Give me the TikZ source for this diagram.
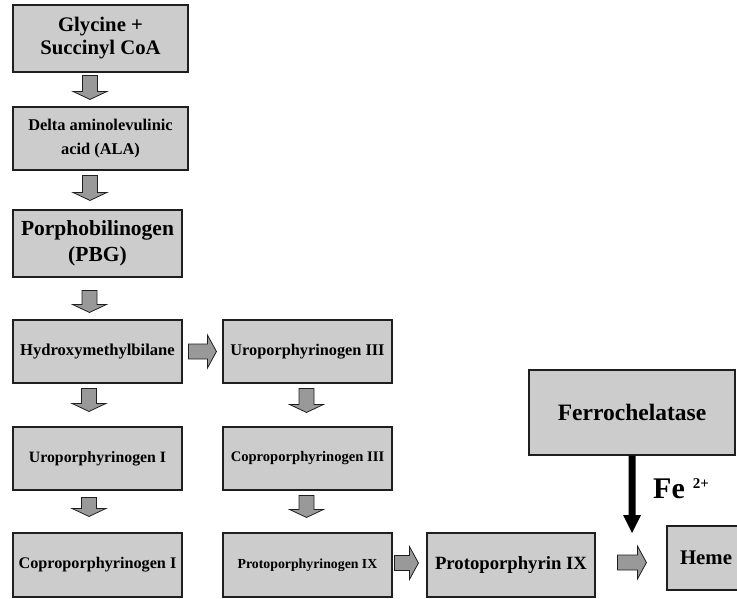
\documentclass[tikz,border=0pt]{standalone}
\usepackage{fontspec}
\setmainfont{Liberation Serif}
\usetikzlibrary{calc}
\definecolor{boxfill}{gray}{0.80}
\definecolor{arrfill}{gray}{0.60}
\definecolor{edge}{gray}{0.12}
\tikzset{
  box/.style={draw=edge, line width=1.1pt, fill=boxfill, inner sep=2pt, align=center},
  blk/.style={draw=edge, line width=0.8pt, fill=arrfill, line join=miter},
  fs/.style={font=\fontsize{#1}{#1}\selectfont\bfseries},
}
% grey block arrow pointing down, from point #1 to tip #2
\newcommand\darrow[2]{%
  \path[blk] let \p1=#1, \p2=#2 in
   (\x1-7.5pt,\y1) -- (\x1+7.5pt,\y1) -- (\x1+7.5pt,\y2+8pt) -- (\x1+17pt,\y2+8pt)
   -- (\x1,\y2) -- (\x1-17pt,\y2+8pt) -- (\x1-7.5pt,\y2+8pt) -- cycle;}
% grey block arrow pointing right, from point #1 to tip #2
\newcommand\rarrow[2]{%
  \path[blk] let \p1=#1, \p2=#2 in
   (\x1,\y1+7.5pt) -- (\x2-9pt,\y1+7.5pt) -- (\x2-9pt,\y1+16.5pt) -- (\x2,\y1)
   -- (\x2-9pt,\y1-16.5pt) -- (\x2-9pt,\y1-7.5pt) -- (\x1,\y1-7.5pt) -- cycle;}
\begin{document}
\begin{tikzpicture}[x=1pt,y=-1pt]
\useasboundingbox (0,0) rectangle (737,598);
\clip (0,0) rectangle (737,598);

% boxes
\node[box, font=\fontsize{20.7}{23}\selectfont\bfseries, minimum width=175, minimum height=67] (gly) at (100.5,38.5)
  {Glycine +\\Succinyl CoA};
\node[box, font=\fontsize{16.4}{24}\selectfont\bfseries, minimum width=175, minimum height=63] (ala) at (100.5,138.5)
  {Delta aminolevulinic\\acid (ALA)};
\node[box, font=\fontsize{21.5}{26}\selectfont\bfseries, minimum width=169, minimum height=67] (pbg) at (97.5,243.5)
  {Porphobilinogen\\(PBG)};
\node[box, fs=16.6, minimum width=169, minimum height=63] (hmb) at (97.5,351.5) {Hydroxymethylbilane};
\node[box, fs=16.3, minimum width=169, minimum height=63] (uro3) at (307.5,351.5) {Uroporphyrinogen III};
\node[box, fs=15.8, minimum width=169, minimum height=63] (uro1) at (97.5,458.5) {Uroporphyrinogen I};
\node[box, fs=14.6, minimum width=169, minimum height=63] (copro3) at (307.5,458.5) {Coproporphyrinogen III};
\node[box, fs=16.2, minimum width=169, minimum height=64] (copro1) at (97.5,565) {Coproporphyrinogen I};
\node[box, fs=13.8, minimum width=169, minimum height=64] (protogen) at (307.5,565) {Protoporphyrinogen IX};
\node[box, fs=18.7, minimum width=168, minimum height=64] (proto) at (511,565) {Protoporphyrin IX};
\node[box, fs=20.8, minimum width=78, minimum height=64] (heme) at (706,558) {Heme};
\node[box, fs=23.5, minimum width=206, minimum height=85] (ferro) at (632,412.5) {Ferrochelatase};

% grey block arrows
\darrow{($(gly.south)+(-10.5,3)$)}{($(ala.north)+(-10.5,-7)$)}
\darrow{($(ala.south)+(-10.5,5)$)}{($(pbg.north)+(-10.5,-9)$)}
\darrow{($(pbg.south)+(-8,13)$)}{($(hmb.north)+(-8,-7)$)}
\darrow{($(hmb.south)+(-8.5,5)$)}{($(uro1.north)+(-8.5,-15)$)}
\darrow{($(uro1.south)+(-8.5,7)$)}{($(copro1.north)+(-8.5,-16)$)}
\darrow{($(uro3.south)+(-1,5)$)}{($(copro3.north)+(-1,-14)$)}
\darrow{($(copro3.south)+(-1,5)$)}{($(protogen.north)+(-1,-15)$)}
\rarrow{($(hmb.east)+(6,0)$)}{($(uro3.west)+(-6,0)$)}
\rarrow{($(protogen.east)+(2,-2)$)}{($(proto.west)+(-8,-2)$)}
\rarrow{($(proto.east)+(22,-2.5)$)}{($(heme.west)+(-20,4.5)$)}

% black arrow with Fe2+
\coordinate (tip) at (632,533);
\fill[black] let \p1=(ferro.south), \p2=(tip) in
  (\x1-3.5pt,\y1) -- (\x1+3.5pt,\y1) -- (\x1+3.5pt,\y2+18pt) -- (\x1+9pt,\y2+18pt)
  -- (\x2,\y2) -- (\x1-9pt,\y2+18pt) -- (\x1-3.5pt,\y2+18pt) -- cycle;
\node[anchor=base west, inner sep=0, font=\fontsize{30}{30}\selectfont\bfseries] (fe) at (653,498)
  {Fe\hspace{8pt}\raisebox{10pt}{\fontsize{15}{15}\selectfont 2+}};
\end{tikzpicture}
\end{document}
